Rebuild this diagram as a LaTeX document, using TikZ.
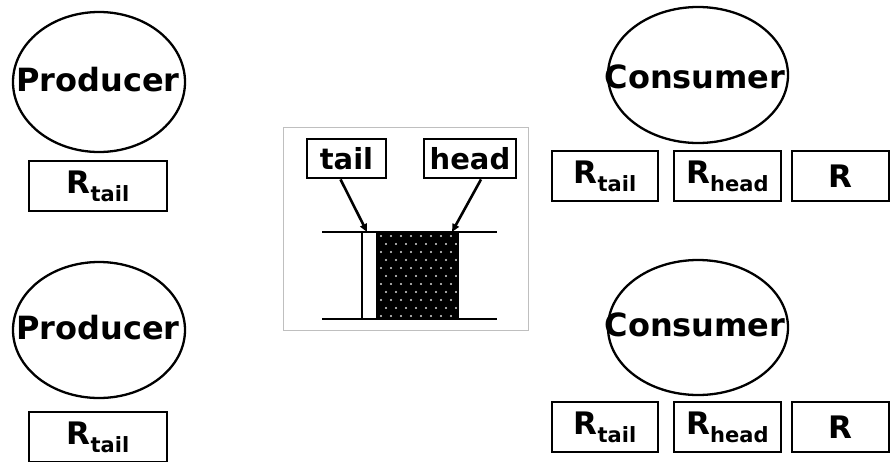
\documentclass[tikz,border=0pt]{standalone}
\usepackage{fontspec}
\setmainfont{DejaVu Sans}
\usetikzlibrary{arrows.meta,shapes.geometric}
% register name with a lowered subscript, as in R_tail
\newcommand{\Rsub}[1]{R\raisebox{-8pt}{\fontsize{21}{21}\selectfont #1}}
\begin{document}
\begin{tikzpicture}[x=1pt,y=-1pt,
  txt/.style={font=\bfseries\fontsize{32}{38}\selectfont, inner sep=0pt},
  actor/.style={draw, ellipse, line width=2.3pt, inner sep=0pt},
  regbox/.style={draw, line width=2.8pt, inner sep=0pt, minimum height=50pt,
                 font=\bfseries\fontsize{31}{36}\selectfont},
  ptrbox/.style={draw, line width=2.8pt, inner sep=0pt, minimum height=39pt,
                 font=\bfseries\fontsize{29}{34}\selectfont},
  rail/.style={line width=2.6pt},
  ptr/.style={line width=2.6pt, -{Triangle[length=8pt,width=7pt]}}]
\useasboundingbox (0,0) rectangle (891,461);

% producers
\node[actor, minimum width=172pt, minimum height=140pt] (p1) at (99,82) {};
\node[txt] (p1t) at (98,80) {Producer};
\node[regbox, minimum width=138pt] (p1r) at (98,186) {\Rsub{tail}};

\node[actor, minimum width=172pt, minimum height=136pt] (p2) at (99,330) {};
\node[txt] (p2t) at (98,328) {Producer};
\node[regbox, minimum width=138pt] (p2r) at (98,437) {\Rsub{tail}};

% consumers
\node[actor, minimum width=180pt, minimum height=136pt] (c1) at (698,75) {};
\node[txt] (c1t) at (695,77) {Consumer};
\node[regbox, minimum width=106pt] (c1a) at (605,176) {\Rsub{tail}};
\node[regbox, minimum width=107pt] (c1b) at (727.5,176) {\Rsub{head}};
\node[regbox, minimum width=97pt]  (c1c) at (840.5,176) {R};

\node[actor, minimum width=180pt, minimum height=135pt] (c2) at (698,327.5) {};
\node[txt] (c2t) at (695,325) {Consumer};
\node[regbox, minimum width=106pt] (c2a) at (605,427) {\Rsub{tail}};
\node[regbox, minimum width=107pt] (c2b) at (727.5,427) {\Rsub{head}};
\node[regbox, minimum width=97pt]  (c2c) at (840.5,427) {R};

% buffer panel
\draw[gray!50, line width=0.8pt] (283,127) rectangle (528,330);
\fill[black] (377,232) rectangle (458,319);
\foreach \r in {0,...,10}
  \foreach \c in {0,...,7}
    \fill[white!85!black] ({381+10*\c+5*mod(\r,2)},{236+8*\r}) circle (1.1pt);
\draw[rail] (322,232) -- (497,232);
\draw[rail] (322,319) -- (497,319);
\draw[rail] (362,232) -- (362,319);
\draw[rail] (377,232) -- (377,319);
\draw[rail] (458,232) -- (458,319);

\node[ptrbox, minimum width=79pt] (tail) at (346.5,158.5) {tail};
\node[ptrbox, minimum width=92pt] (head) at (470,158.5) {head};
\coordinate (tailtip) at (367,232);
\coordinate (headtip) at (452,232);
\draw[ptr] ([xshift=-6pt]tail.south) -- (tailtip);
\draw[ptr] ([xshift=11pt]head.south) -- (headtip);
\end{tikzpicture}
\end{document}
